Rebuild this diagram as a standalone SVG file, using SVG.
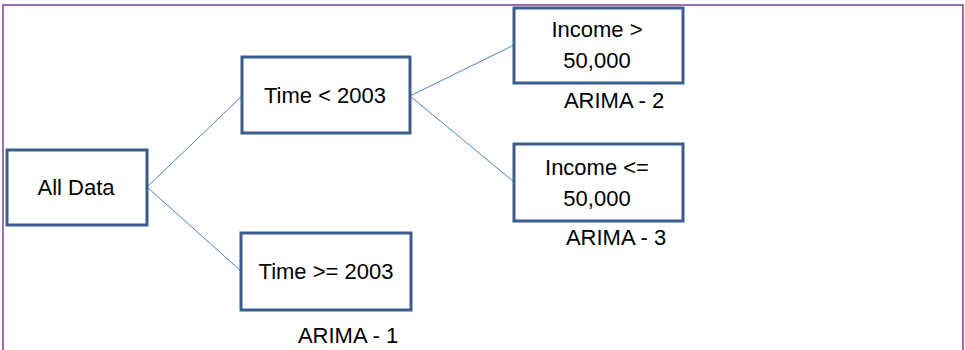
<svg xmlns="http://www.w3.org/2000/svg" width="965" height="350" viewBox="0 0 965 350">
<style>
.box{fill:#fff;stroke:#3b5d8c;stroke-width:3}
.t{font-family:"Liberation Sans",Arial,sans-serif;font-size:22px;fill:#000;text-anchor:middle}
.c{stroke:#4f81bd;stroke-width:1;fill:none}
</style>
<rect x="0" y="0" width="965" height="350" fill="#fff"/>
<rect x="3" y="5" width="960" height="360" fill="none" stroke="#7f3f98" stroke-width="1.5"/>
<g id="connectors">
<line class="c" x1="147" y1="187" x2="242" y2="96"/>
<line class="c" x1="147" y1="187" x2="241" y2="271"/>
<line class="c" x1="410" y1="96" x2="514" y2="45"/>
<line class="c" x1="410" y1="96" x2="514" y2="182"/>
</g>
<g id="all-data">
<rect class="box" x="7" y="150" width="140" height="75"/>
<text class="t" x="76" y="195">All Data</text>
</g>
<g id="time-lt">
<rect class="box" x="242" y="57" width="168" height="76"/>
<text class="t" x="325" y="103">Time &lt; 2003</text>
</g>
<g id="time-ge">
<rect class="box" x="241" y="233" width="170" height="77"/>
<text class="t" x="326" y="279">Time &gt;= 2003</text>
<text class="t" x="348" y="343">ARIMA - 1</text>
</g>
<g id="income-gt">
<rect class="box" x="514" y="8" width="169" height="75"/>
<text class="t" x="597" y="37">Income &gt;</text>
<text class="t" x="597" y="68">50,000</text>
<text class="t" x="614" y="108">ARIMA - 2</text>
</g>
<g id="income-le">
<rect class="box" x="514" y="144" width="169" height="77"/>
<text class="t" x="597" y="175">Income &lt;=</text>
<text class="t" x="597" y="206">50,000</text>
<text class="t" x="616" y="245">ARIMA - 3</text>
</g>
</svg>
